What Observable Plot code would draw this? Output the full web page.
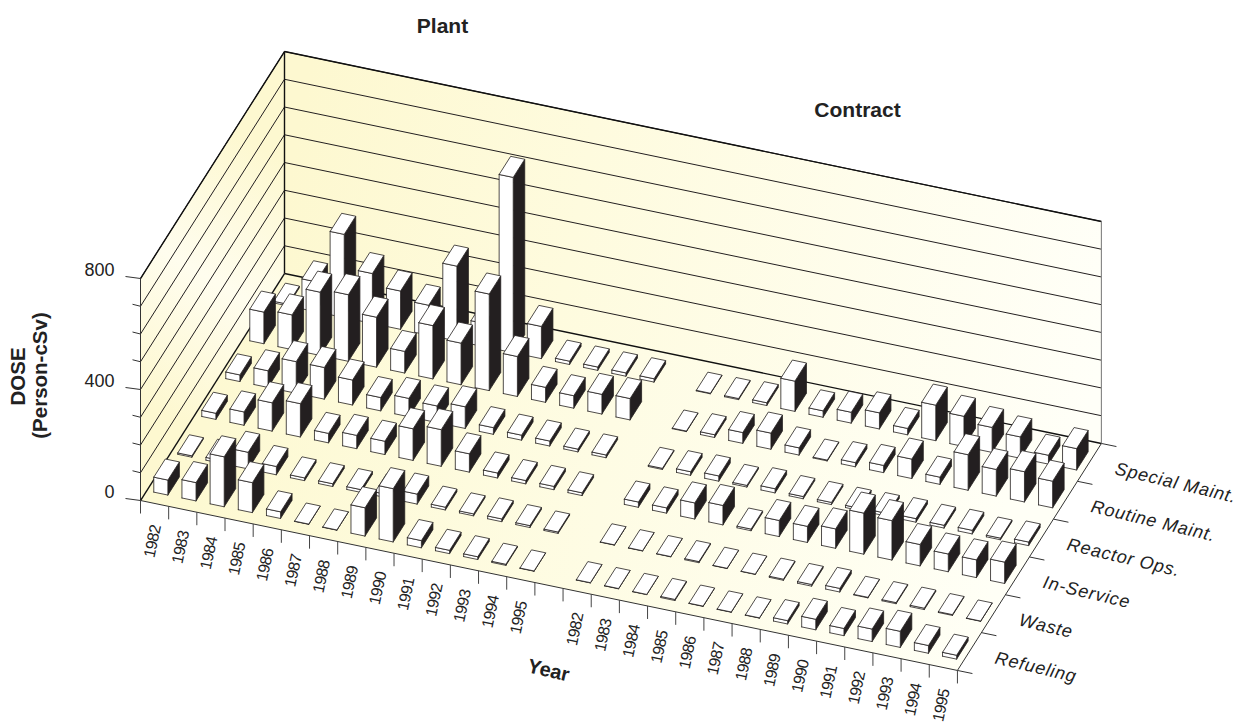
<!DOCTYPE html>
<html><head><meta charset="utf-8">
<script src="https://cdn.jsdelivr.net/npm/d3@7"></script>
<script src="https://cdn.jsdelivr.net/npm/@observablehq/plot@0.6"></script>
<style>html,body{margin:0;padding:0;background:#fff}svg{display:block}.cat text{letter-spacing:.8px}.yr text{letter-spacing:-.7px}</style>
</head><body><div id="chart"></div>
<script>
const years = [1982,1983,1984,1985,1986,1987,1988,1989,1990,1991,1992,1993,1994,1995];
const categories = ["Refueling","Waste","In-Service","Reactor Ops.","Routine Maint.","Special Maint."];
const doseTicks = [0,100,200,300,400,500,600,700,800];
const doseLabels = [0,400,800];
// Dose (person-cSv) for each job category, 1982-1995
const plantRefueling = [54,66,180,108,24,1,1,102,192,26,12,10,4,1];
const plantWaste     = [5,10,60,30,10,10,10,12,36,10,7,10,7,5];
const plantInService = [22,48,102,120,34,48,48,114,132,66,18,12,12,10];
const plantReactor   = [24,60,114,114,90,48,66,60,78,24,18,18,10,10];
const plantRoutine   = [114,125,228,240,180,78,192,150,348,144,54,45,71,77];
const plantSpecial   = [6,108,300,180,138,108,270,84,632,116,12,12,12,12];
const contractRefueling = [1,1,1,4,1,1,1,12,38,26,45,58,28,14];
const contractWaste     = [1,1,1,4,1,1,4,6,13,2,4,5,3,1];
const contractInService = [19,19,58,70,6,58,58,70,148,142,77,64,64,77];
const contractReactor   = [4,13,19,6,15,8,8,8,10,13,10,13,6,13];
const contractRoutine   = [2,10,39,58,26,3,15,26,70,26,128,96,109,96];
const contractSpecial   = [2,4,10,109,23,39,58,23,128,109,90,77,32,77];

const plantRows = [plantRefueling,plantWaste,plantInService,plantReactor,plantRoutine,plantSpecial];
const contractRows = [contractRefueling,contractWaste,contractInService,contractReactor,contractRoutine,contractSpecial];

// oblique projection: u along years, v along categories, h in dose units
const project = (u,v,h=0) => [140+u*28.17+v*24, 500+u*5.86-v*37.83-h*0.2775];

const faces = [];
let fid = 0;
function face(pts, fill){
  const id = fid++;
  [...pts, pts[0]].forEach(p => { const [x,y]=project(...p); faces.push({id,x,y,fill}); });
}
function bar(u,v,h){
  const u0=u+.25,u1=u+.75,v0=v+.26,v1=v+.74;
  face([[u1,v0,0],[u1,v1,0],[u1,v1,h],[u1,v0,h]],"#231f20");
  face([[u0,v0,0],[u1,v0,0],[u1,v0,h],[u0,v0,h]],"#ffffff");
  face([[u0,v0,h],[u1,v0,h],[u1,v1,h],[u0,v1,h]],"#ffffff");
}
for (let r=5;r>=0;r--){
  years.forEach((_,i)=>bar(i,r,plantRows[r][i]));
  years.forEach((_,i)=>bar(i+15,r,contractRows[r][i]));
}

const U=29,V=6,TOP=800;
const poly = (pts)=>[...pts,pts[0]].map(p=>{const [x,y]=project(...p);return {x,y}});
const seg = (a,b)=>{const [x1,y1]=project(...a),[x2,y2]=project(...b);return {x1,y1,x2,y2}};

const wallLines = doseTicks.slice(1).map(t=>seg([0,V,t],[U,V,t]));
const sideLines = doseTicks.slice(1).map(t=>seg([0,0,t],[0,V,t]));
const yTickData = doseTicks.map(t=>{const [x,y]=project(0,0,t);return {x1:x-(t%400===0?15:8),y1:y-2,x2:x,y2:y}});
const xTicks = d3.range(0,U+1).map(u=>{const [x,y]=project(u,0);return {x1:x,y1:y,x2:x,y2:y+13}});
const zTicks = d3.range(0,V+1).map(v=>{const [x,y]=project(U,v);return {x1:x,y1:y,x2:x+15,y2:y+3.1}});

const yearLabels = [...years.map((y,i)=>({y,u:i+.5})),...years.map((y,i)=>({y,u:i+15.5}))]
  .map(d=>{const [x,y]=project(d.u,0);return {label:String(d.y),x,y}});
const catLabels = categories.map((c,i)=>{const [x,y]=project(U,i+.5);return {label:c,x,y}});
const doseText = doseLabels.map(t=>{const [x,y]=project(0,0,t);return {label:String(t),x,y}});

const defs = () => {
  const d = d3.create("svg:defs");
  const grad=(id,x1,y1,x2,y2,stops)=>{
    const g=d.append("linearGradient").attr("id",id).attr("gradientUnits","userSpaceOnUse")
      .attr("x1",x1).attr("y1",y1).attr("x2",x2).attr("y2",y2);
    stops.forEach(([o,c])=>g.append("stop").attr("offset",o).attr("stop-color",c));
  };
  grad("wallGrad",284,200,1101,350,[[0,"#fdf8d0"],[.35,"#fefbde"],[1,"#fffff8"]]);
  grad("sideGrad",140,400,284,160,[[0,"#fdf8d0"],[.5,"#fffdee"],[1,"#fdf8d0"]]);
  grad("floorGrad",200,450,1000,560,[[0,"#fdf9d2"],[.5,"#fefce4"],[1,"#fffff6"]]);
  return d.node();
};

const link = (data,stroke,strokeWidth)=>Plot.link(data,{x1:"x1",y1:"y1",x2:"x2",y2:"y2",stroke,strokeWidth});
const font = "Liberation Sans";
const plot = Plot.plot({
  width:1254,height:723,margin:0,
  x:{domain:[0,1254],range:[0,1254],axis:null},
  y:{domain:[0,723],range:[0,723],axis:null},
  color:{type:"identity"},
  style:{background:"#fff"},
  marks:[
    defs,
    Plot.line(poly([[0,0,0],[0,V,0],[0,V,TOP],[0,0,TOP]]),{x:"x",y:"y",fill:"url(#sideGrad)",stroke:"none"}),
    Plot.line(poly([[0,V,0],[U,V,0],[U,V,TOP],[0,V,TOP]]),{x:"x",y:"y",fill:"url(#wallGrad)",stroke:"none"}),
    Plot.line(poly([[0,0,0],[U,0,0],[U,V,0],[0,V,0]]),{x:"x",y:"y",fill:"url(#floorGrad)",stroke:"none"}),
    link(wallLines,"#231f20",1),
    link(sideLines,"#231f20",1),
    link([seg([0,0,0],[0,0,TOP]),seg([0,0,0],[U,0,0]),seg([U,0,0],[U,V,0])],"#333",1),
    link([seg([0,V,0],[0,V,TOP]),seg([0,V,0],[U,V,0]),seg([0,V,TOP],[U,V,TOP]),seg([0,0,TOP],[0,V,TOP]),seg([0,0,0],[0,V,0])],"#111",1.4),
    link([seg([U,V,0],[U,V,TOP])],"#888",1.2),
    link(yTickData,"#333",1),
    link(xTicks,"#444",1),
    link(zTicks,"#333",1),
    Plot.line(faces,{x:"x",y:"y",z:"id",fill:"fill",stroke:"#231f20",strokeWidth:.8,strokeLinejoin:"round"}),
    Plot.text(yearLabels,{x:"x",y:"y",text:"label",className:"yr",dx:-2,dy:38,rotate:-78,fontSize:16,fill:"#222",fontFamily:font}),
    Plot.text(catLabels,{x:"x",y:"y",text:"label",className:"cat",textAnchor:"start",dx:26,dy:6,rotate:13.5,fontSize:18,fontStyle:"italic",fill:"#222",fontFamily:font}),
    Plot.text(doseText,{x:"x",y:"y",text:"label",textAnchor:"end",dx:-26,dy:-8,fontSize:18,fill:"#222",fontFamily:font}),
    Plot.text([{t:"Plant",x:442,y:26},{t:"Contract",x:857,y:110}],{x:"x",y:"y",text:"t",fontSize:21,fontWeight:"bold",fill:"#222",fontFamily:font}),
    Plot.text([{t:"Year",x:548,y:670}],{x:"x",y:"y",text:"t",rotate:13,fontSize:20,fontWeight:"bold",fill:"#222",fontFamily:font}),
    Plot.text([{t:"DOSE",x:18,y:376},{t:"(Person-cSv)",x:40,y:375}],{x:"x",y:"y",text:"t",rotate:-90,fontSize:20.5,fontWeight:"bold",fill:"#222",fontFamily:font})
  ]
});
document.getElementById("chart").append(plot);
</script></body></html>
